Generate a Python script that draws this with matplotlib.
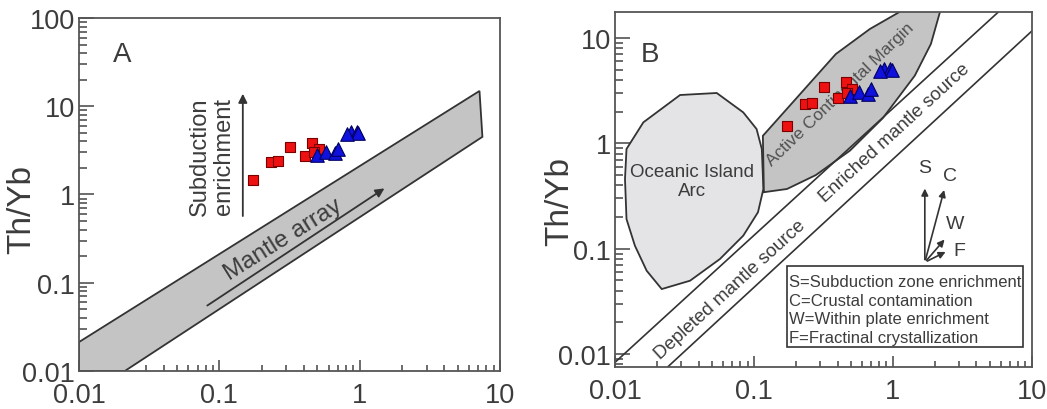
import numpy as np
import matplotlib.pyplot as plt
from matplotlib.patches import Polygon, Rectangle
from matplotlib.ticker import LogLocator, FuncFormatter, NullFormatter

plt.rcParams['font.family'] = ['Liberation Sans', 'DejaVu Sans']

# samples (Nb/Yb, Th/Yb)
red_x = [0.174, 0.234, 0.262, 0.318, 0.406, 0.459, 0.512, 0.47]
red_y = [1.46, 2.35, 2.42, 3.43, 2.71, 3.83, 3.28, 3.0]
blue_x = [0.493, 0.571, 0.662, 0.70, 0.863, 0.953, 0.98, 0.81]
blue_y = [2.80, 3.05, 2.95, 3.28, 5.07, 5.07, 4.95, 4.9]

# panel A field
mantle_x = [0.01, 7.15, 7.5, 0.0212, 0.01]
mantle_y = [0.0213, 14.9, 4.5, 0.01, 0.01]

# panel B fields
oia_x = [0.0121, 0.016, 0.0294, 0.054, 0.0838, 0.1045, 0.114, 0.117, 0.107,
         0.0838, 0.0569, 0.0347, 0.0217, 0.0169, 0.0139, 0.0121, 0.0118]
oia_y = [0.885, 1.585, 2.88, 3.01, 1.97, 1.37, 0.885, 0.369, 0.222,
         0.133, 0.0798, 0.0497, 0.0414, 0.0618, 0.107, 0.191, 0.459]
acm_x = [0.116, 0.118, 0.173, 0.279, 0.491, 0.848, 1.44, 1.88, 2.29, 1.49, 0.684, 0.389]
acm_y = [1.18, 0.344, 0.369, 0.50, 0.853, 1.74, 4.40, 8.79, 22, 22, 12.2, 7.06]

upper_line_x = [0.01, 5.73]
upper_line_y = [0.00834, 17.6]
lower_line_x = [0.0241, 10.05]
lower_line_y = [0.0076, 11.7]

legend_lines = ["S=Subduction zone enrichment", "C=Crustal contamination",
                "W=Within plate enrichment", "F=Fractinal crystallization"]

txt = '#3c3c3c'
edge = '#333333'


def style_axis(ax, ymin, ymax):
    ax.set_xscale('log')
    ax.set_yscale('log')
    ax.set_xlim(0.01, 10)
    ax.set_ylim(ymin, ymax)
    fmt = FuncFormatter(lambda v, p: f"{v:g}")
    ax.xaxis.set_major_formatter(fmt)
    ax.yaxis.set_major_formatter(fmt)
    ax.xaxis.set_major_locator(LogLocator(base=10, numticks=10))
    ax.yaxis.set_major_locator(LogLocator(base=10, numticks=10))
    ax.xaxis.set_minor_locator(LogLocator(base=10, subs=np.arange(2, 10), numticks=20))
    ax.yaxis.set_minor_locator(LogLocator(base=10, subs=np.arange(2, 10), numticks=20))
    ax.xaxis.set_minor_formatter(NullFormatter())
    ax.yaxis.set_minor_formatter(NullFormatter())
    ax.tick_params(axis='both', which='both', direction='in', colors='#444444',
                   labelcolor=txt, labelsize=19.5, width=1.1)
    ax.tick_params(axis='x', which='major', length=8, pad=8)
    ax.tick_params(axis='x', which='minor', length=4.5)
    ax.tick_params(axis='y', which='major', length=11, pad=3)
    ax.tick_params(axis='y', which='minor', length=6)
    for s in ax.spines.values():
        s.set_color('#555555')
        s.set_linewidth(1.3)
    ax.set_ylabel('Th/Yb', fontsize=24, color=txt)


def draw_points(ax):
    ax.scatter(red_x, red_y, marker='s', s=55, c='#ee1111', edgecolors='#7a0000',
               linewidths=0.8, zorder=5)
    ax.scatter(blue_x, blue_y, marker='^', s=95, c='#1111dd', edgecolors='#000060',
               linewidths=0.8, zorder=6)


fig = plt.figure(figsize=(10.47, 4.10), dpi=100)

# ---- panel A
axA = fig.add_axes([0.0755, 0.0927, 0.402, 0.861])
style_axis(axA, 0.01, 100)
axA.yaxis.set_label_coords(-0.10, 0.459)
axA.add_patch(Polygon(np.column_stack([mantle_x, mantle_y]), closed=True,
                      facecolor='#c4c4c4', edgecolor=edge, lw=1.3, zorder=2))
axA.annotate('', xy=(1.56, 1.22), xytext=(0.079, 0.053),
             arrowprops=dict(arrowstyle='-|>', color=edge, lw=1.3, mutation_scale=13), zorder=3)
axA.text(0.283, 0.31, 'Mantle array', rotation=32, fontsize=17.5, color=txt,
         ha='center', va='center', rotation_mode='anchor', zorder=3)
axA.annotate('', xy=(0.147, 14.9), xytext=(0.147, 0.53),
             arrowprops=dict(arrowstyle='-|>', color=edge, lw=1.3, mutation_scale=13))
axA.text(0.0885, 2.73, 'Subduction\nenrichment', rotation=90, fontsize=17, color=txt,
         ha='center', va='center', linespacing=1.1)
axA.text(0.102, 0.898, 'A', transform=axA.transAxes, fontsize=20, color=txt,
         ha='center', va='center')
draw_points(axA)

# ---- panel B
axB = fig.add_axes([0.5874, 0.1024, 0.398, 0.866])
style_axis(axB, 0.00753, 17.7)
axB.yaxis.set_label_coords(-0.096, 0.468)
axB.add_patch(Polygon(np.column_stack([oia_x, oia_y]), closed=True,
                      facecolor='#e4e4e6', edgecolor=edge, lw=1.3, zorder=2))
axB.add_patch(Polygon(np.column_stack([acm_x, acm_y]), closed=True,
                      facecolor='#c4c4c4', edgecolor=edge, lw=1.3, zorder=2))
axB.plot(upper_line_x, upper_line_y, color=edge, lw=1.2, zorder=2)
axB.plot(lower_line_x, lower_line_y, color=edge, lw=1.2, zorder=2)
axB.text(0.036, 0.443, 'Oceanic Island\nArc', fontsize=13.5, color=txt,
         ha='center', va='center', linespacing=1.15, zorder=3)
axB.text(0.416, 2.94, 'Active Continental Margin', rotation=44, fontsize=12.5, color='#505050',
         ha='center', va='center', rotation_mode='anchor', zorder=3)
axB.text(1.03, 1.27, 'Enriched mantle source', rotation=42.4, fontsize=13.5, color=txt,
         ha='center', va='center', rotation_mode='anchor', zorder=3)
axB.text(0.067, 0.0414, 'Depleted mantle source', rotation=42.4, fontsize=13.5, color=txt,
         ha='center', va='center', rotation_mode='anchor', zorder=3)

origin = (1.70, 0.0743)
for tip, lab, pos in [((1.70, 0.396), 'S', (1.70, 0.593)),
                      ((2.37, 0.383), 'C', (2.57, 0.493)),
                      ((2.43, 0.128), 'W', (2.79, 0.172)),
                      ((2.50, 0.0958), 'F', (3.03, 0.0958))]:
    axB.annotate('', xy=tip, xytext=origin,
                 arrowprops=dict(arrowstyle='-|>', color=edge, lw=1.2, mutation_scale=10))
    axB.text(pos[0], pos[1], lab, fontsize=14, color=txt, ha='center', va='center')

axB.add_patch(Rectangle((0.412, 0.0555), 0.567, 0.2295, transform=axB.transAxes,
                        facecolor='white', edgecolor=edge, lw=1.2, zorder=4))
for i, line in enumerate(legend_lines):
    axB.text(0.418, 0.240 - i * 0.0521, line, transform=axB.transAxes, fontsize=12,
             color=txt, ha='left', va='center', zorder=5)
axB.text(0.084, 0.882, 'B', transform=axB.transAxes, fontsize=20, color=txt,
         ha='center', va='center')
draw_points(axB)

fig.savefig('out.png', dpi=100)
